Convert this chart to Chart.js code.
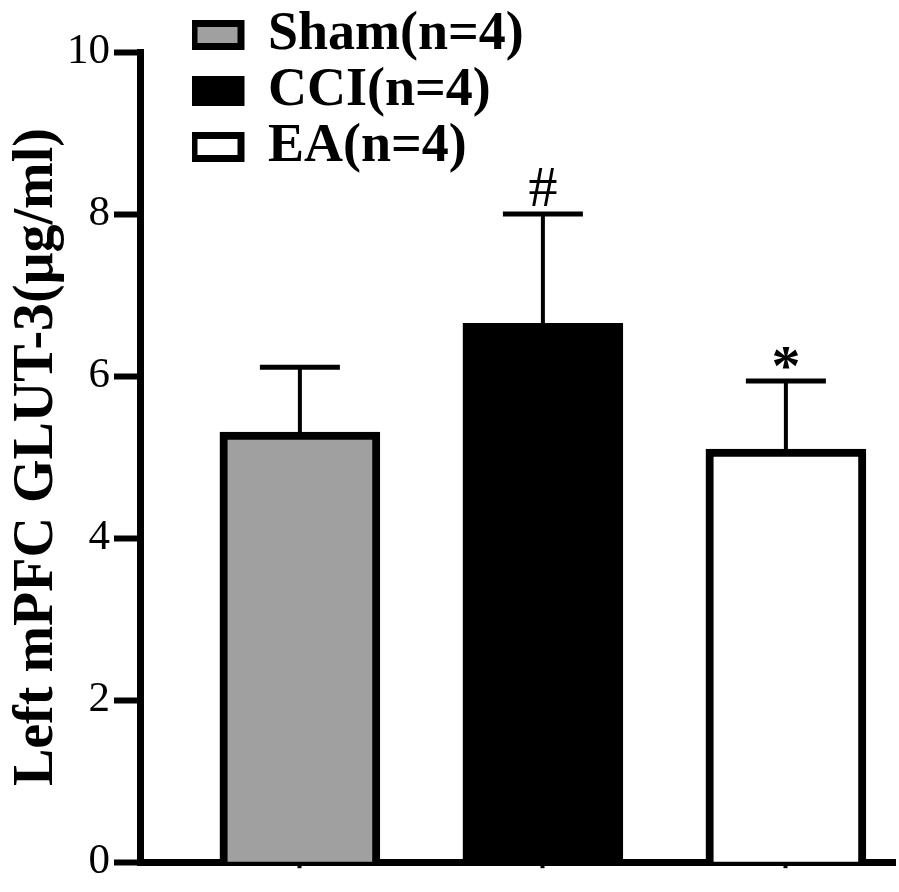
<!DOCTYPE html>
<html>
<head>
<meta charset="utf-8">
<script src="https://cdn.jsdelivr.net/npm/chart.js@4/dist/chart.umd.min.js"></script>
<style>
  html, body { margin: 0; padding: 0; background: #fff; }
  #wrap { width: 899px; height: 892px; }
</style>
</head>
<body>
<div id="wrap"><canvas id="c" width="899" height="892"></canvas></div>
<script>
const categories = ['Sham(n=4)', 'CCI(n=4)', 'EA(n=4)'];
const means = [5.31, 6.65, 5.10];
const sems = [0.80, 1.35, 0.84];
const marks = ['', '#', '*'];
const fills = ['#a0a0a0', '#000000', '#ffffff'];
const yTicks = [0, 2, 4, 6, 8, 10];
const yTitle = 'Left mPFC GLUT-3(\u03bcg/ml)';

const SERIF = "'Liberation Serif', 'Times New Roman', serif";

const errorBars = {
  id: 'errorBars',
  afterDatasetsDraw(chart) {
    const ctx = chart.ctx;
    const xs = chart.scales.x, ys = chart.scales.y;
    ctx.save();
    ctx.strokeStyle = '#000';
    ctx.fillStyle = '#000';
    means.forEach((m, i) => {
      const x = xs.getPixelForValue(i + 1);
      const yb = ys.getPixelForValue(m);
      const yt = ys.getPixelForValue(m + sems[i]);
      ctx.lineWidth = 4;
      ctx.beginPath();
      ctx.moveTo(x, yb);
      ctx.lineTo(x, yt);
      ctx.stroke();
      ctx.lineWidth = 5;
      ctx.beginPath();
      ctx.moveTo(x - 40, yt);
      ctx.lineTo(x + 40, yt);
      ctx.stroke();
      if (marks[i]) {
        ctx.textAlign = 'center';
        ctx.textBaseline = 'alphabetic';
        if (marks[i] === '*') {
          ctx.font = 'bold 58px ' + SERIF;
          ctx.fillText(marks[i], x, yt + 4);
        } else {
          ctx.font = '58px ' + SERIF;
          ctx.fillText(marks[i], x, yt - 8);
        }
      }
    });
    ctx.restore();
  }
};

const legendMover = {
  id: 'legendMover',
  afterLayout(chart) {
    const lg = chart.legend;
    if (!lg) return;
    const w = lg.width, h = lg.height;
    lg.left = 192; lg.top = 6;
    lg.right = lg.left + w; lg.bottom = lg.top + h;
  }
};

new Chart(document.getElementById('c'), {
  type: 'bar',
  data: {
    datasets: [{
      data: means.map((v, i) => ({ x: i + 1, y: v })),
      backgroundColor: fills,
      borderColor: '#000',
      borderWidth: 8,
      borderSkipped: 'start',
      barThickness: 160
    }]
  },
  options: {
    responsive: false,
    animation: false,
    layout: { padding: { top: 52, right: 4, left: 0, bottom: 0 } },
    plugins: {
      tooltip: { enabled: false },
      legend: {
        display: true,
        position: 'chartArea',
        align: 'start',
        labels: {
          boxWidth: 47,
          boxHeight: 23,
          padding: 2,
          color: '#000',
          font: { family: SERIF, size: 54, weight: 'bold' },
          generateLabels: () => categories.map((c, i) => ({
            text: c,
            fillStyle: fills[i],
            strokeStyle: '#000',
            lineWidth: 7,
            hidden: false,
            index: i
          }))
        }
      }
    },
    scales: {
      x: {
        type: 'linear',
        offset: false,
        min: 0.342,
        max: 3.449,
        afterBuildTicks: s => { s.ticks = categories.map((c, i) => ({ value: i + 1 })); },
        afterFit: s => { s.height = 24; },
        ticks: { display: false },
        grid: { offset: false, drawOnChartArea: false, drawTicks: true, tickLength: 6, tickWidth: 4, tickColor: '#000' },
        border: { display: true, color: '#000', width: 7 }
      },
      y: {
        type: 'linear',
        min: 0,
        max: 10,
        afterBuildTicks: s => { s.ticks = yTicks.map(v => ({ value: v })); },
        afterFit: s => { s.width = 140; },
        ticks: {
          color: '#000',
          padding: 4,
          font: { family: SERIF, size: 43 }
        },
        grid: { drawOnChartArea: false, drawTicks: true, tickLength: 26, tickWidth: 6, tickColor: '#000' },
        border: { display: true, color: '#000', width: 7 },
        title: {
          display: true,
          text: yTitle,
          color: '#000',
          font: { family: SERIF, size: 56, weight: 'bold', lineHeight: 1 },
          padding: { top: 10, bottom: 0 }
        }
      }
    }
  },
  plugins: [errorBars, legendMover]
});
</script>
</body>
</html>
